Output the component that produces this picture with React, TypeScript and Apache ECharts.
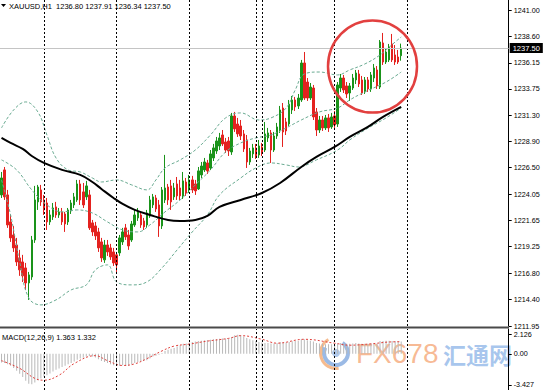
import React, { useEffect, useRef } from 'react';
import * as echarts from 'echarts';

const barSlots = 168;
const opens = [
  1224.00, 1226.30, 1224.00, 1221.52, 1220.32, 1219.40, 1218.21, 1217.84, 1217.29, 1215.91,
  1216.46, 1219.86, 1223.36, 1224.46, 1223.54, 1223.26, 1221.52, 1221.98, 1222.90, 1222.16,
  1222.44, 1222.25, 1221.52, 1222.53, 1223.08, 1223.54, 1225.01, 1224.28, 1223.82, 1224.00,
  1221.43, 1221.15, 1220.60, 1219.68, 1218.03, 1219.40, 1219.13, 1218.76, 1218.49, 1218.67,
  1219.68, 1220.97, 1220.32, 1219.86, 1221.24, 1221.89, 1222.16, 1221.61, 1221.24, 1222.07,
  1223.08, 1223.72, 1223.08, 1221.15, 1223.54, 1224.73, 1224.83, 1223.82, 1225.01, 1224.64,
  1223.91, 1225.19, 1224.46, 1225.38, 1225.01, 1224.55, 1225.84, 1226.30, 1226.94, 1226.48,
  1227.40, 1228.04, 1228.50, 1229.51, 1228.87, 1228.96, 1227.95, 1231.26, 1230.52, 1230.34,
  1229.61, 1229.05, 1227.03, 1227.77, 1228.32, 1227.68, 1228.41, 1228.13, 1229.24, 1229.70,
  1228.13, 1229.42, 1229.97, 1231.99, 1230.71, 1230.52, 1231.81, 1232.73, 1232.18, 1232.73,
  1236.13, 1234.38, 1232.91, 1233.83, 1231.63, 1229.97, 1230.89, 1230.16, 1231.08, 1230.25,
  1231.26, 1230.52, 1233.83, 1234.75, 1234.02, 1233.37, 1233.83, 1234.57, 1235.12, 1234.57,
  1233.47, 1234.57, 1233.74, 1234.75, 1235.49, 1233.92, 1237.97, 1236.22, 1236.41, 1237.88,
  1236.87, 1236.68, 1236.80,
];
const closes = [
  1225.56, 1223.82, 1221.24, 1220.05, 1219.13, 1217.84, 1217.11, 1216.56, 1215.91, 1216.65,
  1219.86, 1223.54, 1224.73, 1223.36, 1222.62, 1221.52, 1222.16, 1222.80, 1222.16, 1222.44,
  1221.52, 1221.33, 1222.62, 1223.26, 1223.82, 1225.01, 1223.54, 1223.08, 1224.83, 1220.97,
  1220.60, 1220.23, 1219.13, 1218.21, 1219.40, 1218.76, 1218.30, 1217.75, 1217.57, 1220.05,
  1220.60, 1220.14, 1219.31, 1221.33, 1222.16, 1222.44, 1221.24, 1221.06, 1222.34, 1223.54,
  1223.82, 1222.71, 1221.15, 1224.46, 1224.64, 1223.54, 1223.36, 1224.64, 1223.91, 1223.91,
  1225.29, 1224.18, 1225.38, 1224.46, 1224.37, 1226.21, 1226.66, 1227.03, 1226.21, 1227.77,
  1228.32, 1228.96, 1229.24, 1228.69, 1228.13, 1228.04, 1231.26, 1230.07, 1229.61, 1229.42,
  1228.23, 1227.03, 1228.04, 1228.32, 1227.58, 1228.50, 1227.86, 1229.61, 1229.70, 1228.13,
  1229.42, 1230.25, 1231.81, 1229.79, 1229.88, 1232.36, 1232.73, 1232.09, 1232.91, 1236.13,
  1232.91, 1232.91, 1233.92, 1231.17, 1229.97, 1230.89, 1230.16, 1231.08, 1230.16, 1231.17,
  1230.43, 1234.11, 1234.75, 1233.65, 1233.28, 1234.02, 1234.75, 1235.21, 1234.20, 1233.37,
  1234.57, 1233.74, 1235.03, 1235.67, 1234.02, 1238.06, 1236.22, 1237.14, 1237.60, 1236.41,
  1236.22, 1236.22, 1237.50,
];
const lows = [
  1223.72, 1223.54, 1220.97, 1219.68, 1218.76, 1217.47, 1216.56, 1216.00, 1215.27, 1214.35,
  1216.19, 1219.59, 1222.62, 1222.99, 1222.16, 1220.78, 1221.24, 1221.70, 1221.89, 1221.89,
  1221.24, 1220.60, 1221.24, 1222.25, 1222.80, 1223.36, 1223.08, 1222.80, 1223.54, 1220.78,
  1220.23, 1219.86, 1218.76, 1217.84, 1217.75, 1218.39, 1218.03, 1217.47, 1216.92, 1218.39,
  1219.40, 1219.86, 1218.95, 1219.68, 1221.06, 1221.61, 1220.97, 1220.78, 1220.97, 1221.89,
  1222.80, 1222.44, 1220.14, 1220.87, 1223.26, 1223.08, 1222.62, 1223.54, 1223.54, 1223.54,
  1223.63, 1223.91, 1224.18, 1224.18, 1224.00, 1224.46, 1225.56, 1226.11, 1225.93, 1226.30,
  1227.12, 1227.77, 1228.13, 1228.50, 1227.86, 1227.58, 1227.68, 1229.79, 1229.33, 1229.05,
  1227.95, 1226.48, 1226.76, 1227.40, 1227.31, 1227.40, 1227.58, 1227.95, 1228.87, 1226.94,
  1227.95, 1229.15, 1229.70, 1228.41, 1229.51, 1230.34, 1231.44, 1231.72, 1231.90, 1232.55,
  1232.73, 1232.64, 1232.73, 1230.89, 1229.42, 1229.70, 1229.88, 1229.97, 1229.79, 1230.07,
  1230.16, 1230.25, 1233.47, 1233.37, 1232.91, 1232.64, 1233.65, 1234.20, 1233.92, 1233.19,
  1233.28, 1233.47, 1233.47, 1234.38, 1233.74, 1233.74, 1235.95, 1236.04, 1236.22, 1236.22,
  1235.95, 1236.04, 1236.34,
];
const highs = [
  1226.11, 1226.57, 1224.46, 1222.16, 1221.15, 1220.05, 1218.95, 1218.49, 1217.75, 1216.92,
  1220.23, 1224.83, 1224.92, 1224.92, 1224.00, 1223.72, 1222.62, 1223.26, 1223.36, 1222.80,
  1222.80, 1222.44, 1222.80, 1223.54, 1224.18, 1225.38, 1225.38, 1225.10, 1225.29, 1224.46,
  1221.70, 1221.52, 1220.97, 1220.05, 1219.86, 1219.86, 1219.50, 1219.13, 1218.76, 1220.32,
  1220.97, 1221.33, 1220.78, 1221.61, 1222.62, 1222.80, 1222.44, 1221.89, 1222.62, 1223.91,
  1224.09, 1224.00, 1223.54, 1224.73, 1227.68, 1225.01, 1225.38, 1225.10, 1225.65, 1225.38,
  1226.11, 1225.56, 1225.84, 1225.75, 1225.38, 1226.57, 1227.03, 1227.40, 1227.22, 1228.13,
  1228.69, 1229.33, 1229.70, 1229.97, 1229.24, 1229.33, 1231.54, 1231.63, 1231.08, 1230.89,
  1229.97, 1229.51, 1228.32, 1228.69, 1228.69, 1229.05, 1228.78, 1230.71, 1230.16, 1229.97,
  1229.79, 1230.62, 1232.18, 1232.45, 1231.08, 1232.73, 1233.10, 1233.01, 1233.28, 1236.41,
  1237.14, 1234.75, 1234.29, 1234.11, 1231.99, 1231.26, 1231.26, 1231.35, 1231.44, 1231.54,
  1231.72, 1234.38, 1235.12, 1235.03, 1234.38, 1234.29, 1235.12, 1235.49, 1235.49, 1234.94,
  1234.84, 1234.84, 1235.30, 1236.04, 1235.85, 1238.24, 1238.89, 1237.51, 1237.88, 1238.80,
  1237.78, 1237.33, 1237.91,
];

// moving average (black) read at sample bars: [bar, price]
const maPoints = [
  [0, 1229.24], [3, 1228.78], [7, 1228.23], [10, 1227.58], [14, 1226.94], [20, 1226.30],
  [26, 1225.84], [30, 1225.19], [33, 1224.55], [37, 1223.72], [40, 1223.17], [44, 1222.62],
  [49, 1222.16], [55, 1221.70], [59, 1221.61], [64, 1221.70], [68, 1222.07], [72, 1222.90],
  [79, 1223.54], [86, 1224.18], [92, 1225.10], [99, 1226.57], [104, 1227.49], [110, 1228.41],
  [115, 1229.33], [121, 1230.25], [126, 1231.17], [132, 1232.09],
];
const bandUpper = [
  [0, 1230.16], [4, 1231.81], [8, 1232.55], [12, 1231.63], [15, 1229.51], [18, 1227.40],
  [22, 1226.30], [26, 1226.11], [30, 1225.56], [33, 1225.19], [38, 1225.38], [43, 1224.92],
  [48, 1224.46], [51, 1225.38], [54, 1226.48], [59, 1227.22], [64, 1228.13], [69, 1229.51],
  [74, 1231.08], [79, 1231.54], [85, 1230.89], [89, 1231.08], [94, 1231.99], [97, 1233.65],
  [100, 1235.12], [105, 1235.30], [111, 1235.03], [115, 1235.49], [120, 1236.04], [125, 1236.87],
  [130, 1238.06], [132, 1238.52],
];
const bandMiddle = [
  [0, 1227.22], [5, 1226.30], [10, 1224.46], [15, 1223.08], [20, 1222.44], [25, 1222.62],
  [30, 1222.34], [35, 1221.52], [40, 1220.78], [45, 1220.60], [49, 1221.24], [54, 1222.44],
  [59, 1223.54], [64, 1224.92], [69, 1226.30], [74, 1227.95], [79, 1228.78], [84, 1229.24],
  [89, 1229.51], [94, 1230.16], [99, 1230.89], [105, 1231.63], [111, 1231.99], [115, 1232.73],
  [120, 1233.47], [127, 1234.38], [132, 1235.30],
];
const bandLower = [
  [0, 1225.38], [3, 1222.16], [6, 1217.84], [9, 1214.53], [13, 1213.89], [18, 1214.35],
  [23, 1215.27], [28, 1215.73], [31, 1217.11], [35, 1217.57], [38, 1216.00], [43, 1215.73],
  [48, 1216.00], [53, 1217.29], [58, 1218.95], [63, 1220.60], [68, 1222.16], [72, 1224.00],
  [79, 1225.56], [84, 1226.48], [89, 1226.94], [94, 1226.76], [98, 1226.57], [104, 1227.22],
  [111, 1228.13], [115, 1229.05], [120, 1229.97], [127, 1231.08], [132, 1231.99],
];
const macdMain = [
  -0.95, -1.0, -1.15, -1.3, -1.55, -1.85, -2.2, -2.55, -2.95, -3.3,
  -3.35, -3.15, -2.9, -2.7, -2.5, -2.35, -2.15, -1.95, -1.75, -1.6,
  -1.45, -1.3, -1.15, -1.0, -0.85, -0.65, -0.5, -0.42, -0.3, -0.25,
  -0.28, -0.4, -0.6, -0.8, -0.9, -1.0, -1.15, -1.25, -1.35, -1.3,
  -1.25, -1.3, -1.3, -1.15, -1.0, -0.9, -0.85, -0.8, -0.7, -0.5,
  -0.3, -0.2, -0.1, 0.1, 0.3, 0.45, 0.55, 0.65, 0.8, 0.95,
  1.1, 1.15, 1.25, 1.3, 1.35, 1.4, 1.45, 1.5, 1.52, 1.55,
  1.6, 1.62, 1.65, 1.7, 1.68, 1.65, 1.85, 2.05, 2.1, 2.05,
  1.9, 1.75, 1.6, 1.5, 1.4, 1.3, 1.25, 1.2, 1.2, 1.15,
  1.15, 1.2, 1.3, 1.3, 1.25, 1.3, 1.38, 1.4, 1.42, 1.6,
  1.6, 1.5, 1.45, 1.35, 1.2, 1.15, 1.1, 1.05, 1.05, 1.05,
  1.0, 1.15, 1.2, 1.15, 1.1, 1.1, 1.15, 1.2, 1.15, 1.1,
  1.12, 1.1, 1.15, 1.2, 1.15, 1.4, 1.42, 1.43, 1.45, 1.42,
  1.38, 1.35, 1.363,
];
const macdSignal = [
  [0, -0.75], [6, -1.6], [11, -2.7], [14, -2.9], [19, -2.35], [24, -1.07], [31, -0.2],
  [35, -0.75], [40, -1.28], [44, -1.1], [48, -0.53], [53, 0.32], [57, 0.85], [62, 1.07],
  [68, 1.4], [75, 1.7], [79, 2.0], [86, 1.6], [91, 1.17], [100, 1.6], [110, 1.17],
  [115, 0.95], [122, 1.1], [128, 1.3], [132, 1.332],
];
const priceTicks = [1241.0, 1238.6, 1236.15, 1233.75, 1231.3, 1228.9, 1226.5, 1224.05, 1221.65, 1219.25, 1216.8, 1214.4, 1211.95];
const macdTicks = [2.126, 0, -3.427];
const gridBars = ['14', '38', '62', '84', '86', '110', '134'];
const lastPrice = 1237.5;
const titleText = 'XAUUSD,H1  1236.80 1237.91 1236.34 1237.50';
const macdText = 'MACD(12,26,9) 1.363 1.332';
const font = 'Liberation Sans';

export default function App() {
  const ref = useRef<HTMLDivElement>(null);
  useEffect(() => {
    if (!ref.current) return;
    const chart = echarts.init(ref.current, null, { renderer: 'svg' });
    const categories = Array.from({ length: barSlots }, (_, i) => String(i));
    const candles = opens.map((o, i) => [o, closes[i], lows[i], highs[i]]);
    const bandStyle = { color: '#6aab92', width: 1, type: [3, 2] };
    const dotted = { color: '#000', width: 1, type: [2, 2] };
    const xAxisBase = {
      type: 'category', data: categories, boundaryGap: true,
      axisLine: { show: false }, axisTick: { show: false }, axisLabel: { show: false }, splitLine: { show: false },
    };
    const option: any = {
      animation: false,
      backgroundColor: '#ffffff',
      textStyle: { fontFamily: font },
      grid: [
        { left: -2, right: 37.3, top: 0, height: 326 },
        { left: -2, right: 37.3, top: 329, height: 61 },
      ],
      xAxis: [
        { ...xAxisBase, gridIndex: 0 },
        { ...xAxisBase, gridIndex: 1 },
      ],
      yAxis: [
        {
          type: 'value', gridIndex: 0, position: 'right', min: 1211.95, max: 1241.92,
          axisLine: { show: true, lineStyle: { color: '#000', width: 1 } },
          axisTick: { show: true, length: 3, customValues: priceTicks, lineStyle: { color: '#000' } },
          axisLabel: { customValues: priceTicks, formatter: (v: number) => v.toFixed(2), fontSize: 7.2, lineHeight: 7, color: '#000', margin: 5, fontFamily: font },
          splitLine: { show: false },
        },
        {
          type: 'value', gridIndex: 1, position: 'right', min: -3.977, max: 2.731,
          axisLine: { show: true, lineStyle: { color: '#000', width: 1 } },
          axisTick: { show: true, length: 3, customValues: macdTicks, lineStyle: { color: '#000' } },
          axisLabel: { customValues: macdTicks, formatter: (v: number) => (v === 0 ? '0.00' : v.toFixed(3)), fontSize: 7.2, lineHeight: 7, color: '#000', margin: 5, fontFamily: font },
          splitLine: { show: false },
        },
      ],
      series: [
        {
          type: 'candlestick', xAxisIndex: 0, yAxisIndex: 0, data: candles, barWidth: 2, z: 3,
          itemStyle: { color: '#1a931a', color0: '#e4221f', borderColor: '#1a931a', borderColor0: '#e4221f', borderWidth: 1 },
          markLine: {
            silent: true, symbol: 'none', animation: false,
            data: [
              ...gridBars.map((b) => ({ xAxis: b, lineStyle: dotted, label: { show: false } })),
              {
                yAxis: lastPrice, lineStyle: { color: '#c4c4c4', width: 1, type: 'solid' },
                label: { show: true, position: 'end', formatter: lastPrice.toFixed(2), color: '#fff', backgroundColor: '#000', padding: [1, 3, 1, 3], fontSize: 7.5, fontFamily: font, distance: 1 },
              },
            ],
          },
        },
        { type: 'line', xAxisIndex: 0, yAxisIndex: 0, data: bandUpper, smooth: 0.4, showSymbol: false, lineStyle: bandStyle, z: 4 },
        { type: 'line', xAxisIndex: 0, yAxisIndex: 0, data: bandMiddle, smooth: 0.4, showSymbol: false, lineStyle: bandStyle, z: 4 },
        { type: 'line', xAxisIndex: 0, yAxisIndex: 0, data: bandLower, smooth: 0.4, showSymbol: false, lineStyle: bandStyle, z: 4 },
        { type: 'line', xAxisIndex: 0, yAxisIndex: 0, data: maPoints, smooth: 0.4, showSymbol: false, lineStyle: { color: '#000', width: 2 }, z: 5 },
        {
          type: 'bar', xAxisIndex: 1, yAxisIndex: 1, data: macdMain, barWidth: 1, itemStyle: { color: '#b9b9b9' }, z: 2,
          markLine: { silent: true, symbol: 'none', animation: false, data: gridBars.map((b) => ({ xAxis: b, lineStyle: dotted, label: { show: false } })) },
        },
        { type: 'line', xAxisIndex: 1, yAxisIndex: 1, data: macdSignal, smooth: 0.4, showSymbol: false, lineStyle: { color: '#e0403c', width: 1, type: [2, 2] }, z: 4 },
      ],
      graphic: [
        { type: 'polygon', shape: { points: [[1, 4], [6, 4], [3.5, 7]] }, style: { fill: '#000' }, z: 50 },
        { type: 'text', x: 9, y: 6, style: { text: titleText, font: `7.5px ${font}`, fill: '#000', textVerticalAlign: 'middle' }, z: 50 },
        { type: 'rect', shape: { x: 0, y: 326.5, width: 509, height: 2 }, style: { fill: '#4a4a4a' }, z: 50 },
        { type: 'text', x: 2, y: 337, style: { text: macdText, font: `7.5px ${font}`, fill: '#000', textVerticalAlign: 'middle' }, z: 50 },
        { type: 'ellipse', shape: { cx: 372.5, cy: 66.5, rx: 44.5, ry: 46 }, style: { fill: 'none', stroke: '#e2403f', lineWidth: 2.5 }, z: 60 },
        {
          type: 'group', z: 100, children: [
            { type: 'arc', shape: { cx: 336, cy: 353, r: 12, startAngle: -1.0, endAngle: 3.6 }, style: { stroke: '#7aa3dc', lineWidth: 4, fill: 'none', opacity: 0.75 } },
            { type: 'arc', shape: { cx: 336, cy: 353, r: 15.5, startAngle: 1.4, endAngle: 4.2 }, style: { stroke: '#f3a468', lineWidth: 3, fill: 'none', opacity: 0.75 } },
            { type: 'circle', shape: { cx: 336, cy: 353, r: 4 }, style: { fill: '#7aa3dc', opacity: 0.6 } },
            { type: 'text', x: 356, y: 353, style: { text: 'FX678', font: `28px ${font}`, lineHeight: 22, fill: '#f4a06c', opacity: 0.72, textVerticalAlign: 'middle' } },
            { type: 'text', x: 443, y: 354, style: { text: '汇通网', font: `bold 23px "Noto Sans CJK SC"`, lineHeight: 20, fill: '#86b0e6', opacity: 0.72, textVerticalAlign: 'middle' } },
          ],
        },
      ],
    };
    chart.setOption(option);
    return () => chart.dispose();
  }, []);
  return <div ref={ref} style={{ position: 'fixed', left: 0, top: 0, width: 546, height: 390 }} />;
}
